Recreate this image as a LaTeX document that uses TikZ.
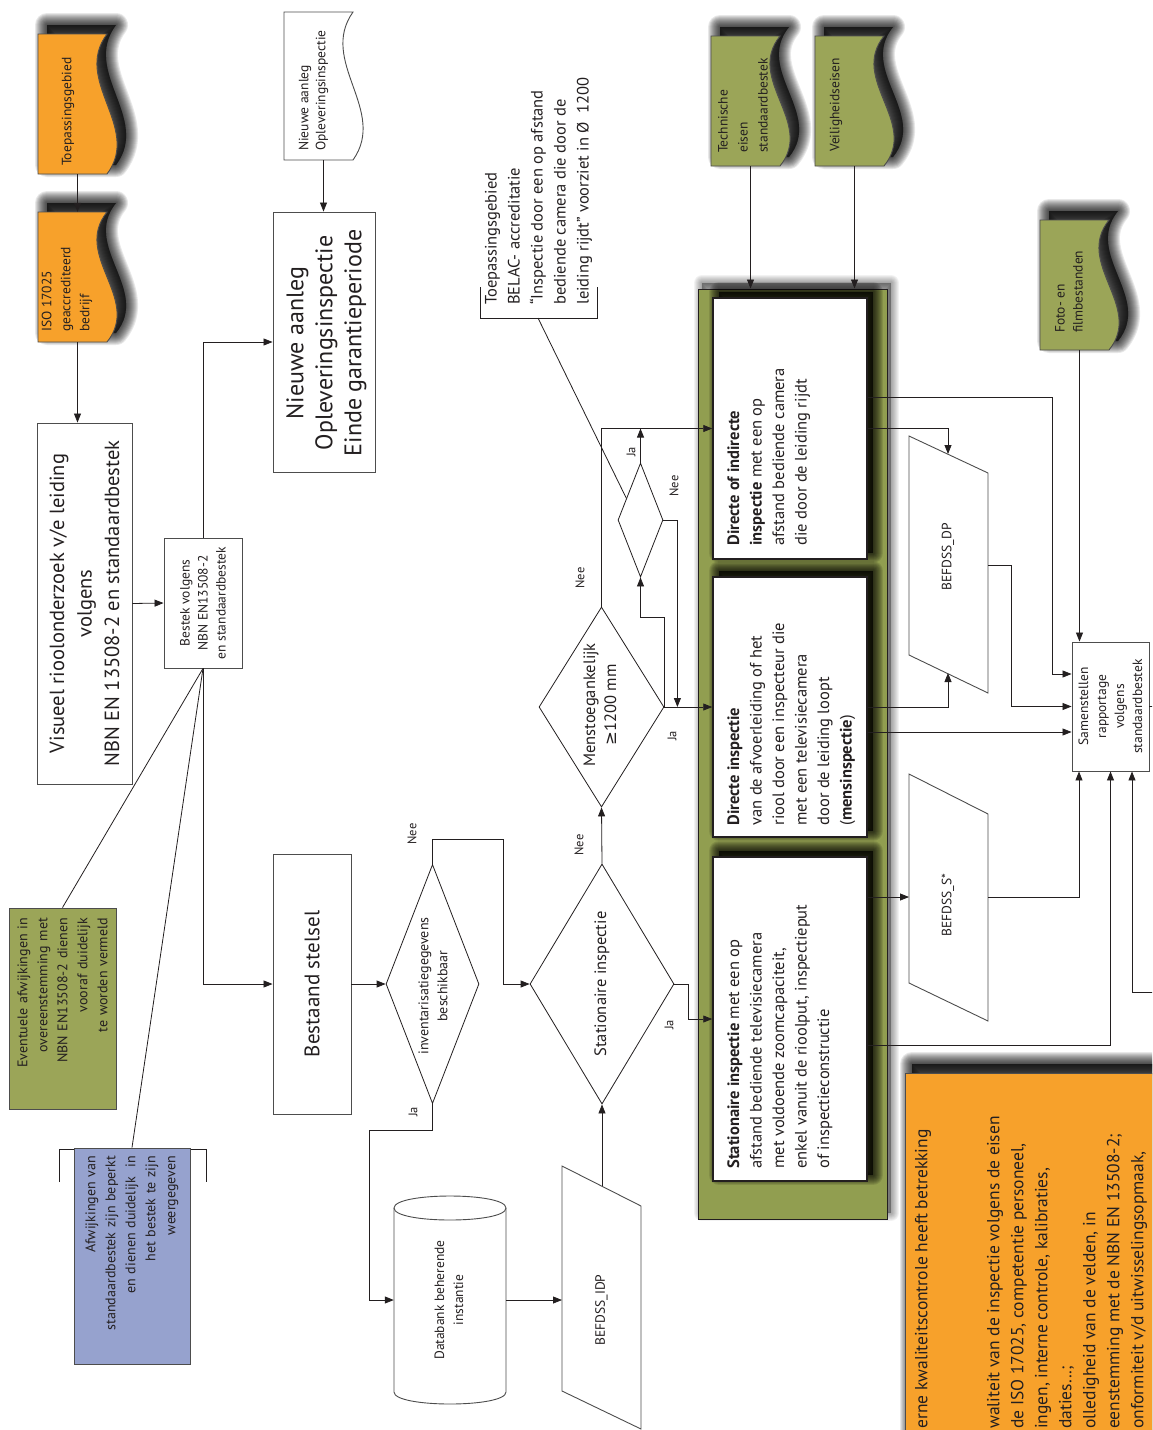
\documentclass[tikz,border=0pt]{standalone}
\usepackage{fontspec}
\setmainfont{PT Sans}
\newfontfamily\symfont{DejaVu Sans}
\usetikzlibrary{arrows.meta,calc,shapes.geometric}

\definecolor{orangeF}{HTML}{F7A12B}
\definecolor{oliveF}{HTML}{9BA558}
\definecolor{contF}{HTML}{919E50}
\definecolor{blueF}{HTML}{96A2CE}
\definecolor{ink}{HTML}{231F20}
\definecolor{edgegray}{HTML}{4D4D4D}

\newcommand\fsz[2]{\fontsize{#1pt}{#2pt}\selectfont}
% document symbol: straight left, top and bottom edges, wavy right edge
\newcommand\docpath[4]{(#1,#2) -- (#3,#2) .. controls ({#3-35},{#2+(#4-#2)/3}) and ({#3+35},{#2+2*(#4-#2)/3}) .. (#3,#4) -- (#1,#4) -- cycle}
% soft drop shadow made of many stacked translucent strokes
\newcommand\softshadow[5]{%
  \begin{scope}[shift={(#1,#2)}]
    \foreach \w in {1,...,#4}{%
      \path[fill=black, draw=black, fill opacity=#3, draw opacity=#3, line width=2*\w pt, line join=round] #5;}
  \end{scope}}

\begin{document}
\begin{tikzpicture}[x=1pt, y=-1pt,
  every node/.style={rotate=90, inner sep=0pt, text=ink},
  frame/.style={draw=edgegray, line width=0.9pt, fill=white},
  docedge/.style={draw=edgegray, line width=0.9pt},
  inbox/.style={draw=ink, line width=1.5pt, fill=white},
  dia/.style={diamond, draw=ink, line width=0.8pt, fill=white},
  ln/.style={draw=ink, line width=0.8pt},
  arr/.style={ln, -{Triangle[length=9pt,width=7pt]}},
  lbl/.style={font=\fsz{12.5}{14}},
  smalltxt/.style={font=\fsz{13.5}{19}},
  boxtxt/.style={font=\fsz{16.5}{22.5}, align=left, anchor=north west},
  ]
\useasboundingbox (0,0) rectangle (1152,1430);
\clip (0,0) rectangle (1152,1430);

% ---------- orange sources ----------
\softshadow{9}{-9}{0.09}{12}{\docpath{38}{34}{107}{174}}
\draw[docedge, fill=orangeF] \docpath{38}{34}{107}{174};
\node[minimum width=140pt, minimum height=79pt] (toep) at (77.5,104) {};
\node[smalltxt, anchor=west] (toepT) at (68,166) {Toepassingsgebied};

\softshadow{9}{-9}{0.09}{12}{\docpath{38}{212}{107}{342}}
\draw[docedge, fill=orangeF] \docpath{38}{212}{107}{342};
\node[minimum width=130pt, minimum height=79pt] (iso) at (77.5,277) {};
\node[smalltxt, anchor=west, align=left] (isoT) at (67,332) {ISO 17025\\geaccrediteerd\\bedrijf};

% ---------- left column ----------
\node[frame, minimum width=361pt, minimum height=95pt, align=center, font=\fsz{20.5}{27.5}] (vis) at (84.5,603.5)
  {Visueel rioolonderzoek v/e leiding\\volgens\\NBN EN 13508-2 en standaardbestek};
\node[frame, minimum width=130pt, minimum height=78pt, align=center, font=\fsz{13.5}{18}] (bestek) at (203,603)
  {Bestek volgens\\NBN EN13508-2\\en standaardbestek};

\draw[docedge, fill=white] \docpath{284}{12}{353}{160};
\node[minimum width=148pt, minimum height=79pt] (nadoc) at (323.5,86) {};
\node[smalltxt, anchor=west, align=left, font=\fsz{13.5}{17}] (nadocT) at (313.5,151) {Nieuwe aanleg\\Opleveringsinspectie};

\node[frame, minimum width=260pt, minimum height=102pt] (nabox) at (324,342) {};
\node[align=center, font=\fsz{24}{29}] (naboxT) at (326.5,343) {Nieuwe aanleg\\Opleveringsinspectie\\Einde garantieperiode};
\node[frame, minimum width=260pt, minimum height=78pt, font=\fsz{21}{25}] (bestaand) at (312,984) {Bestaand stelsel};

\node[frame, fill=oliveF, minimum width=201pt, minimum height=107pt, text width=181pt, align=right, font=\fsz{14}{20}] (green) at (62.5,1008.5)
  {Eventuele afwijkingen in\\overeenstemming met\\NBN EN13508-2 dienen\\vooraf duidelijk\\te worden vermeld};

\draw[ln] (59,1182) -- (59,1149) -- (206,1149) -- (206,1182);
\node[frame, fill=blueF, minimum width=216pt, minimum height=116pt, text width=200pt, align=right, font=\fsz{14}{20}] (blue) at (132,1256)
  {Afwijkingen van\\standaardbestek zijn beperkt\\en dienen duidelijk~ in\\het bestek te zijn\\weergegeven};

% ---------- decisions ----------
\node[dia, minimum width=239pt, minimum height=93pt] (inv) at (432.5,984) {};
\node[font=\fsz{14}{19}, align=center] (invT) at (433,986) {inventarisatiegegevens\\beschikbaar};
\node[dia, minimum width=240pt, minimum height=144pt] (stat) at (602,984) {};
\node[font=\fsz{16.5}{20}] (statT) at (602,984) {Stationaire inspectie};
\node[dia, minimum width=200pt, minimum height=125pt] (menst) at (601.5,707) {};
\node[font=\fsz{16.5}{21}, align=center] (menstT) at (600,705) {Menstoegankelijk\\{\symfont ≥}1200 mm};
\node[dia, minimum width=114pt, minimum height=45pt] (small) at (640.5,520) {};

% database cylinder
\draw[frame] (394,1208) -- (394,1392) .. controls (394,1408) and (506,1408) .. (506,1392) -- (506,1208)
  .. controls (506,1192) and (394,1192) .. (394,1208) -- cycle;
\draw[docedge] (394,1208) .. controls (394,1224) and (506,1224) .. (506,1208);
\node[minimum width=210pt, minimum height=112pt] (cyl) at (450,1300) {};
\node[font=\fsz{13.5}{19}, align=center] (cylT) at (449,1300) {Databank beherende\\instantie};

% input data BEFDSS_IDP
\draw[frame] (562,1166) -- (641,1206) -- (641,1429) -- (562,1391) -- cycle;
\node[smalltxt] (idp) at (601.5,1310) {BEFDSS\_IDP};
\coordinate (idpL) at (562,1300);
\coordinate (idpT) at (602,1186);

% annotation on accreditation scope
\draw[ln] (480,287) -- (480,318) -- (597,318) -- (597,287);
\coordinate (belacB) at (538,318);
\node[anchor=west, align=left, font=\fsz{16.5}{23}] (belac) at (538.5,305)
  {Toepassingsgebied\\BELAC- accreditatie\\“Inspectie door een op afstand\\bediende camera die door de\\leiding rijdt” voorziet in Ø~~1200};

% ---------- green requirement sources ----------
\softshadow{9}{-9}{0.09}{12}{\docpath{711}{36}{780}{166}}
\draw[docedge, fill=oliveF] \docpath{711}{36}{780}{166};
\node[minimum width=130pt, minimum height=79pt] (tech) at (750.5,101) {};
\node[smalltxt, anchor=west, align=left, font=\fsz{13.5}{20}] (techT) at (743,153) {Technische\\eisen\\standaardbestek};

\softshadow{9}{-9}{0.09}{12}{\docpath{815}{36}{884}{166}}
\draw[docedge, fill=oliveF] \docpath{815}{36}{884}{166};
\node[minimum width=130pt, minimum height=79pt] (veil) at (854.5,101) {};
\node[smalltxt, anchor=west] (veilT) at (836,152) {Veiligheidseisen};

\softshadow{9}{-9}{0.09}{12}{\docpath{1040}{220}{1109}{350}}
\draw[docedge, fill=oliveF] \docpath{1040}{220}{1109}{350};
\node[minimum width=130pt, minimum height=79pt] (foto) at (1079.5,285) {};
\node[smalltxt, anchor=west, align=left, font=\fsz{13.5}{18}] (fotoT) at (1069,333) {Foto- en\\filmbestanden};

% ---------- inspection methods ----------
\softshadow{4}{-6}{0.05}{8}{(698,289) rectangle (887,1219)}
\node[draw=ink, line width=1pt, fill=contF, minimum width=930pt, minimum height=189pt] (cont) at (792.5,754) {};

\softshadow{6}{-6}{0.1}{10}{(713,298) rectangle (867,559)}
\softshadow{6}{-6}{0.1}{10}{(713,577) rectangle (867,837)}
\softshadow{6}{-6}{0.1}{10}{(713,857) rectangle (867,1181)}
\node[inbox, minimum width=261pt, minimum height=154pt] (boxA) at (790,428.5) {};
\node[inbox, minimum width=260pt, minimum height=154pt] (boxB) at (790,707) {};
\node[inbox, minimum width=324pt, minimum height=154pt] (boxC) at (790,1019) {};
\node[boxtxt] (boxAT) at ($(boxA.north west)+(15,-14)$)
  {\textbf{Directe of indirecte}\\\textbf{inspectie} met een op\\afstand bediende camera\\die door de leiding rijdt};
\node[boxtxt] (boxBT) at ($(boxB.north west)+(15,-12)$)
  {\textbf{Directe inspectie}\\van de afvoerleiding of het\\riool door een inspecteur die\\met een televisiecamera\\door de leiding loopt\\(\textbf{mensinspectie})};
\node[boxtxt] (boxCT) at ($(boxC.north west)+(15,-13)$)
  {\textbf{Stationaire inspectie} met een op\\afstand bediende televisiecamera\\met voldoende zoomcapaciteit,\\enkel vanuit de rioolput, inspectieput\\of inspectieconstructie};

% ---------- output data ----------
\draw[frame] (909,436) -- (988,473) -- (988,693) -- (909,655) -- cycle;
\node[smalltxt] (dp) at (948,557) {BEFDSS\_DP};
\coordinate (dpT) at (948,454);
\coordinate (dpB) at (948,673);
\coordinate (dpR) at (988,565);

\draw[frame] (909,774) -- (988,814) -- (988,1021) -- (909,983) -- cycle;
\node[smalltxt] (ss) at (948,905) {BEFDSS\_S*};
\coordinate (ssL) at (909,897);
\coordinate (ssR) at (988,897);

\node[frame, minimum width=129pt, minimum height=77pt, align=center, font=\fsz{13.5}{18}] (samen) at (1110.5,706.5)
  {Samenstellen\\rapportage\\volgens\\standaardbestek};
\coordinate (sb1) at ($(samen.west)+(-31.5,0)$);
\coordinate (sb3) at ($(samen.west)+(21.5,0)$);
\coordinate (offR) at (1160,992);

% ---------- internal quality control note ----------
\softshadow{7}{-9}{0.09}{12}{(905,1073) rectangle (1175,1450)}
\draw[docedge, fill=orangeF] (905,1073) rectangle (1175,1450);
\node[anchor=west, font=\fsz{17.5}{24}] (qc1) at (923,1429) {erne kwaliteitscontrole heeft betrekking};
\node[anchor=west, align=left, font=\fsz{17.5}{24}] (qc2) at (1067,1429)
  {waliteit van de inspectie volgens de eisen\\de ISO 17025, competentie personeel,\\ingen, interne controle, kalibraties,\\daties...;\\olledigheid van de velden, in\\eenstemming met de NBN EN 13508-2;\\onformiteit v/d uitwisselingsopmaak,};

% ---------- connectors ----------
\draw[arr] (toep.west) -- (iso.east);
\draw[arr] (iso.west) -- (iso.west |- vis.east);
\draw[arr] (vis.south) -- (bestek.north);
\draw[arr] (bestek.east) |- (nabox.north);
\draw[arr] (bestek.west) |- (bestaand.north);
\draw[arr] (nadoc.west) -- (nadoc.west |- nabox.east);
\draw[ln] (bestek.west) -- (green.east);
\draw[ln] (bestek.west) -- (blue.east);

\draw[arr] (bestaand.south) -- (inv.north);
\draw[arr] (inv.east) -- ++(0,-25) -| ($(stat.north)+(-26,0)$) -- (stat.north);
\draw[arr] (inv.west) -- ++(0,26) -| ($(cyl.north)+(-24,0)$) -- (cyl.north);
\draw[arr] (cyl.south) -- (cyl.south -| idpL);
\draw[arr] (idpT) -- (stat.west);
\draw[arr] (stat.east) -- (menst.west);
\draw[arr] (stat.south) -- ++(14,0) |- (boxC.north);
\draw[arr] (menst.east) |- (boxA.north);
\draw[arr] (menst.south) -- (boxB.north);
\draw[arr] (menst.south) -- ++(0,-90) -| (small.west);
\draw[arr] (small.east) -- (small.east |- boxA.north);
\draw[arr] (small.south) -| ($(menst.south)+(13,0)$);
\draw[ln] (belacB) -- ($(small.east)!0.62!(small.north)$);

\draw[arr] (tech.west) -- (tech.west |- cont.east);
\draw[arr] (veil.west) -- (veil.west |- cont.east);

\draw[arr] (boxA.south) -| (dpT);
\draw[arr] (boxB.south) -| (dpB);
\draw[arr] ($(boxA.south)+(0,-31.5)$) -| ($(samen.north)+(-19,-32.5)$) -- ($(samen.north)+(0,-32.5)$);
\draw[arr] (dpR) -| ($(samen.north)+(-60,0)$) -- (samen.north);
\draw[arr] ($(boxB.south)+(0,25)$) -- ($(samen.north)+(0,25.5)$);
\draw[arr] (foto.west) -- (foto.west |- samen.east);
\draw[arr] ($(boxC.south)+(0,-122)$) -- (ssL);
\draw[arr] (ssR) -| (sb1);
\draw[arr] ($(boxC.south)+(0,26)$) -| (samen.west);
\draw[arr] (offR) -| (sb3);
\draw[ln] (samen.south) -- ++(10,0);

% ---------- branch labels ----------
\node[lbl] (l1) at (412,834) {Nee};
\node[lbl] (l2) at (413,1112) {Ja};
\node[lbl] (l3) at (579,845) {Nee};
\node[lbl] (l4) at (669,1025) {Ja};
\node[lbl] (l5) at (580,578) {Nee};
\node[lbl] (l6) at (672,736) {Ja};
\node[lbl] (l7) at (631,452) {Ja};
\node[lbl] (l8) at (674,486) {Nee};
\end{tikzpicture}
\end{document}
